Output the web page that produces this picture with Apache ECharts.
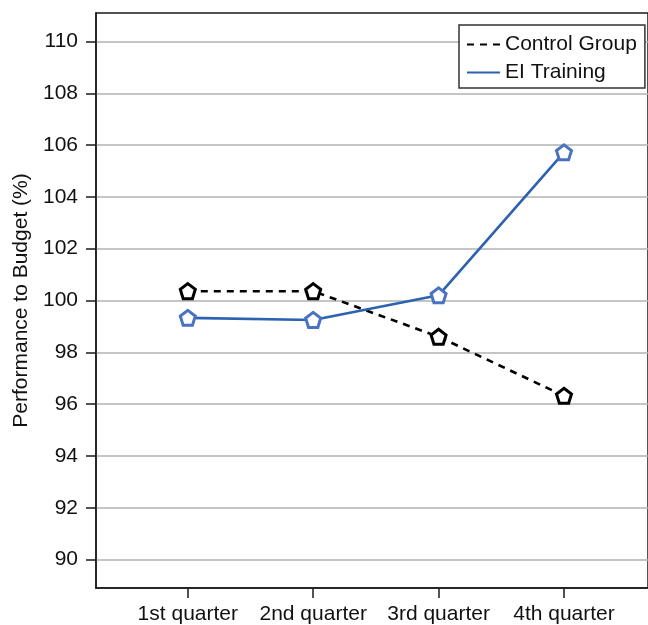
<!DOCTYPE html>
<html>
<head>
<meta charset="utf-8">
<script src="https://cdn.jsdelivr.net/npm/echarts@6/dist/echarts.min.js"></script>
<style>
html,body{margin:0;padding:0;background:#fff;}
#chart{width:648px;height:625px;}
</style>
</head>
<body>
<div id="chart"></div>
<script>
const quarters = ['1st quarter', '2nd quarter', '3rd quarter', '4th quarter'];
const quarterPositions = [1, 2, 3, 4];
const controlGroup = [100.36, 100.36, 98.6, 96.32];
const eiTraining = [99.33, 99.25, 100.2, 105.72];
const yTicks = [90, 92, 94, 96, 98, 100, 102, 104, 106, 108, 110];
const yName = 'Performance to Budget (%)';
const seriesNames = ['Control Group', 'EI Training'];

const pentagon = 'path://M0,-1 L0.951,-0.309 L0.588,0.809 L-0.588,0.809 L-0.951,-0.309 Z';
const FONT = '"Liberation Sans", Arial, sans-serif';

const chart = echarts.init(document.getElementById('chart'), null, {renderer: 'canvas'});
chart.setOption({
  animation: false,
  backgroundColor: '#fff',
  textStyle: {fontFamily: FONT},
  grid: {
    left: 96, top: 13, right: -4, bottom: 35,
    show: true, borderColor: '#1a1a1a', borderWidth: 1.5, backgroundColor: 'transparent'
  },
  legend: {
    orient: 'vertical',
    left: 459, top: 25,
    padding: [9, 8, 5, 7],
    itemGap: 7,
    itemWidth: 33, itemHeight: 14,
    backgroundColor: '#fff',
    borderColor: '#333', borderWidth: 1.5,
    textStyle: {fontSize: 21, color: '#111', fontFamily: FONT},
    itemStyle: {opacity: 0},
    data: seriesNames
  },
  xAxis: {
    type: 'value',
    min: 0.268, max: 4.67,
    axisLine: {show: true, lineStyle: {color: '#1a1a1a', width: 1.5}},
    axisTick: {show: true, length: 10, customValues: quarterPositions, lineStyle: {color: '#1a1a1a', width: 1.5}},
    axisLabel: {
      customValues: quarterPositions,
      margin: 16, fontSize: 21, color: '#111', fontFamily: FONT,
      formatter: v => quarters[Math.round(v) - 1] || ''
    },
    splitLine: {show: false}
  },
  yAxis: {
    type: 'value',
    min: 88.9, max: 111.1,
    splitNumber: 11,
    name: yName,
    nameLocation: 'middle',
    nameGap: 63,
    nameTextStyle: {fontSize: 21, color: '#111', fontFamily: FONT},
    axisLine: {show: true, lineStyle: {color: '#1a1a1a', width: 1.5}},
    axisTick: {show: true, length: 10, customValues: yTicks, lineStyle: {color: '#1a1a1a', width: 1.5}},
    axisLabel: {customValues: yTicks, margin: 18, fontSize: 21, color: '#111', fontFamily: FONT},
    splitLine: {show: true, lineStyle: {color: '#b0b2b2', width: 1.5}}
  },
  series: [
    {
      name: seriesNames[0],
      type: 'line',
      data: quarterPositions.map((q, i) => [q, controlGroup[i]]),
      symbol: pentagon,
      symbolSize: 15,
      lineStyle: {color: '#000', width: 2.6, type: [7, 6]},
      itemStyle: {color: '#fff', borderColor: '#000', borderWidth: 3},
      z: 3
    },
    {
      name: seriesNames[1],
      type: 'line',
      data: quarterPositions.map((q, i) => [q, eiTraining[i]]),
      symbol: pentagon,
      symbolSize: 15,
      lineStyle: {color: '#2c62b0', width: 2.6},
      itemStyle: {color: '#fff', borderColor: '#4a72c2', borderWidth: 3},
      z: 4
    }
  ]
});
</script>
</body>
</html>
